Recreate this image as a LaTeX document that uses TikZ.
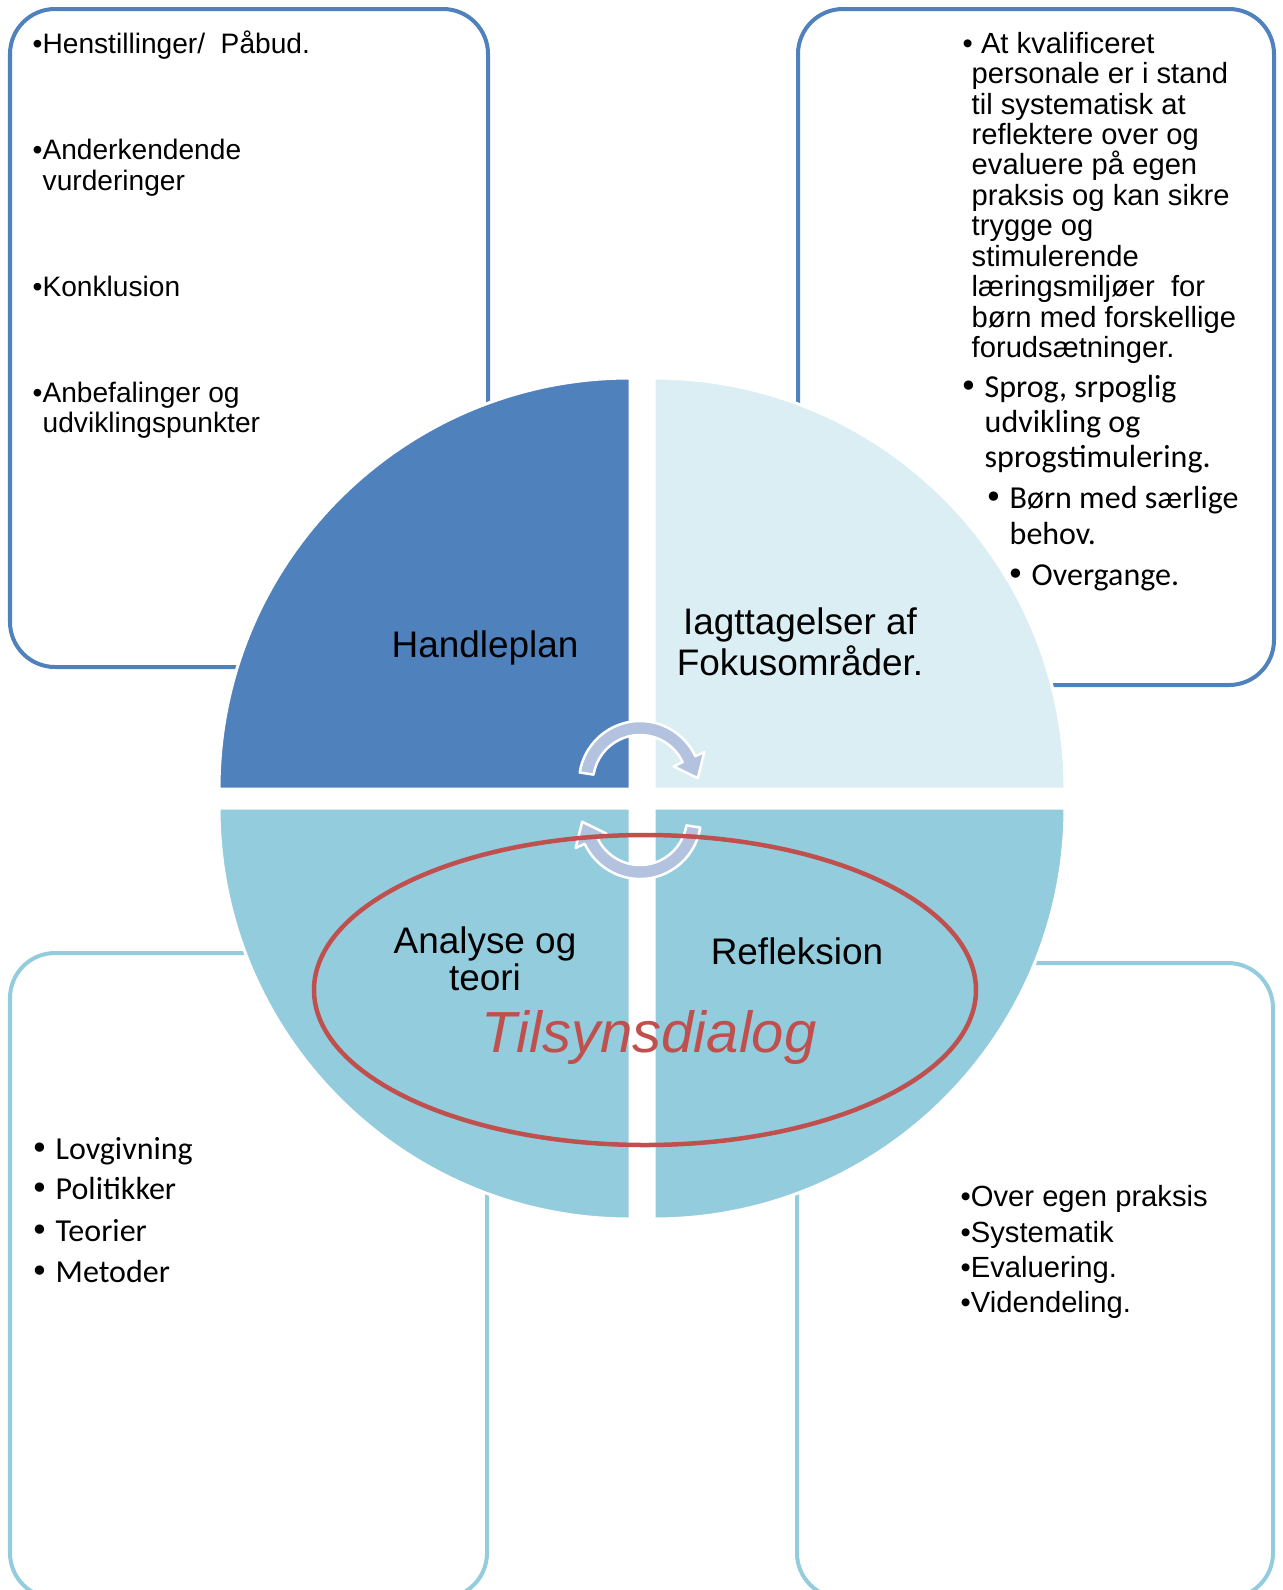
\documentclass[tikz,border=0pt]{standalone}
\usepackage{fontspec}
\setmainfont{Liberation Sans}
\newfontfamily\carlito{Carlito}
\newfontfamily\dejavu{DejaVu Sans}
\definecolor{handle}{HTML}{4F81BD}
\definecolor{iagt}{HTML}{DBEEF4}
\definecolor{refl}{HTML}{93CDDD}
\definecolor{dialog}{HTML}{C0504D}
\definecolor{cyclearrow}{HTML}{B3C2DF}
\newcommand{\itm}{\llap{\dejavu•\hspace{0.06cm}}}

\begin{document}
\begin{tikzpicture}[x=0.01cm,y=-0.01cm,
  infobox/.style={line width=0.04cm,fill=white,rounded corners=0.45cm},
  quarter/.style={draw=white,line width=0.03cm},
  cycarrow/.style={fill=cyclearrow,draw=white,line width=0.025cm,line join=round},
  quadtext/.style={anchor=base,inner sep=0pt,align=center,font=\fontsize{10.5}{11.4}\selectfont},
  entry/.style={anchor=base west,inner sep=0pt}]
\useasboundingbox (0,0) rectangle (1283,1590);
\clip (0,0) rectangle (1283,1590);
% text boxes
\draw[infobox,draw=handle] (10,9) rectangle (488,667);
\draw[infobox,draw=handle] (798,9) rectangle (1274,685);
\draw[infobox,draw=refl] (10,953) rectangle (487,1598);
\draw[infobox,draw=refl] (797,963) rectangle (1273,1598);
% four quarters
\filldraw[quarter,fill=handle] (630,789) -- (219,789) arc[start angle=180,end angle=270,radius=411] -- cycle;
\filldraw[quarter,fill=iagt] (654,789) -- (654,378) arc[start angle=270,end angle=360,radius=411] -- cycle;
\filldraw[quarter,fill=refl] (630,808) -- (630,1219) arc[start angle=90,end angle=180,radius=411] -- cycle;
\filldraw[quarter,fill=refl] (654,808) -- (1065,808) arc[start angle=0,end angle=90,radius=411] -- cycle;
% cycle arrows
\coordinate (ta) at (640,782);
\coordinate (ba) at (640,818);
\filldraw[cycarrow] ([shift={(189:61)}]ta) arc[start angle=189,end angle=335,radius=61] -- ([shift={(335:71)}]ta) -- ([shift={(335:54)},shift={(65:21)}]ta) -- ([shift={(335:37)}]ta) -- ([shift={(335:47)}]ta) arc[start angle=335,end angle=189,radius=47] -- cycle;
\filldraw[cycarrow] ([shift={(9:61)}]ba) arc[start angle=9,end angle=155,radius=61] -- ([shift={(155:71)}]ba) -- ([shift={(155:54)},shift={(245:21)}]ba) -- ([shift={(155:37)}]ba) -- ([shift={(155:47)}]ba) arc[start angle=155,end angle=9,radius=47] -- cycle;
% dialog ellipse
\coordinate (dia) at (645,990);
\draw[dialog,line width=0.045cm] (dia) ellipse [x radius=331,y radius=155];
% quarter labels
\node[quadtext] (handleplan) at (485,657) {Handleplan};
\node[quadtext] (iagttagelser) at (800,675) {Iagttagelser af\\Fokusområder.};
\node[quadtext,font=\fontsize{10.5}{10.5}\selectfont] (analyse) at (485,990) {Analyse og\\teori};
\node[quadtext] (refleksion) at (797,964) {Refleksion};
\node[anchor=base,inner sep=0pt,text=dialog,font=\fontsize{16.5}{18}\selectfont\itshape] (tilsyn) at (649,1052) {Tilsynsdialog};
% box texts
\foreach \xx/\yy/\txt [count=\i] in {32/53/{•Henstillinger/\ \ Påbud.},32/159/{•Anderkendende},42/190/{vurderinger},32/296/{•Konklusion},32/402/{•Anbefalinger og},42/432/{udviklingspunkter}}
  \node[entry,font=\fontsize{8}{9.6}\selectfont] (hen\i) at (\xx,\yy) {\txt};
\foreach \xx/\yy/\txt [count=\i] in {962/53/{• At kvalificeret},971/83/{personale er i stand},971/114/{til systematisk at},971/144/{reflektere over og},971/174/{evaluere på egen},971/205/{praksis og kan sikre},971/235/{trygge og},971/266/{stimulerende},971/296/{læringsmiljøer\ \ for},971/327/{børn med forskellige},971/357/{forudsætninger.}}
  \node[entry,font=\fontsize{8.3}{9}\selectfont] (kval\i) at (\xx,\yy) {\txt};
\foreach \xx/\yy/\txt [count=\i] in {984/397/{\itm Sprog, srpoglig},984/432/{udvikling og},984/467/{sprogstimulering.},1009/508/{\itm Børn med særlige},1009/544/{behov.},1031/585/{\itm Overgange.}}
  \node[entry,font=\carlito\fontsize{9.1}{10}\selectfont] (sprog\i) at (\xx,\yy) {\txt};
\foreach \yy/\txt [count=\i] in {1159/Lovgivning,1199/Politikker,1241/Teorier,1282/Metoder}
  \node[entry,font=\carlito\fontsize{9.1}{10}\selectfont] (lov\i) at (55,\yy) {\itm\txt};
\foreach \yy/\txt [count=\i] in {1206/{•Over egen praksis},1242/{•Systematik},1277/{•Evaluering.},1312/{•Videndeling.}}
  \node[entry,font=\fontsize{8.3}{9}\selectfont] (over\i) at (960,\yy) {\txt};
\end{tikzpicture}
\end{document}
